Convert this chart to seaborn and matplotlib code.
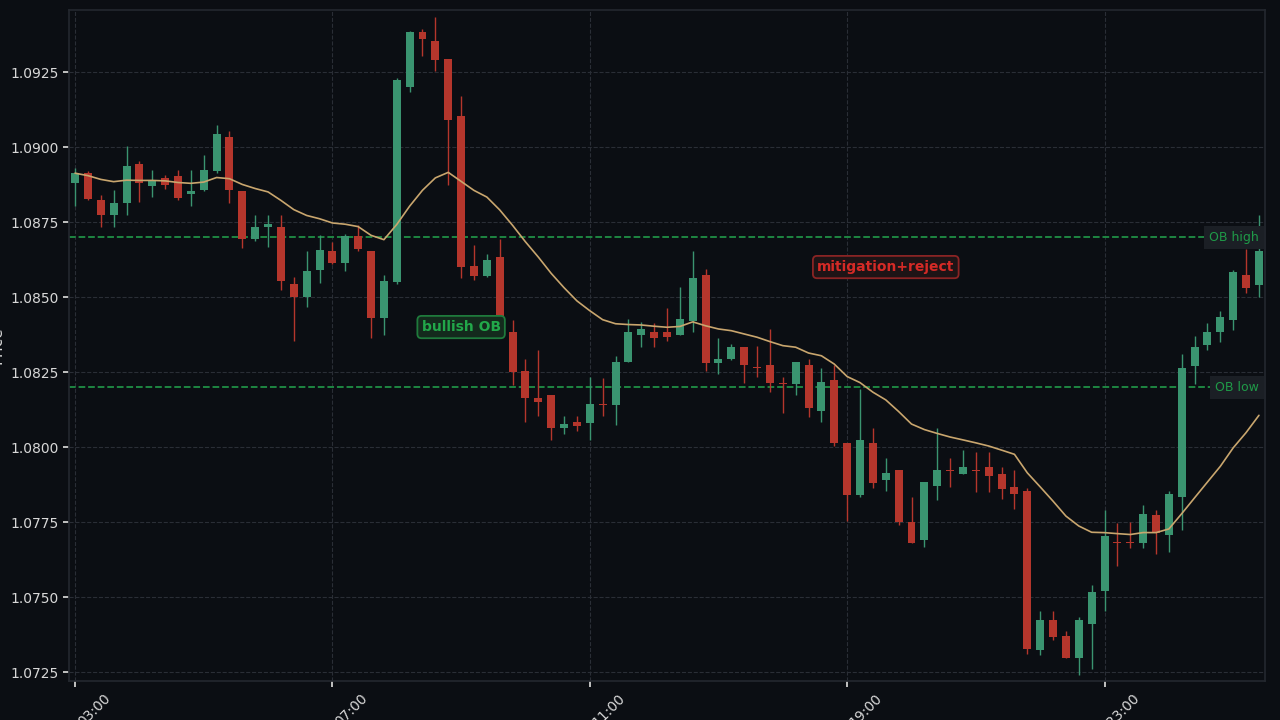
import numpy as np
import pandas as pd
import matplotlib
matplotlib.use("Agg")
import matplotlib.pyplot as plt
import seaborn as sns

opens = [1.08880,1.08913,1.08823,1.08773,1.08813,1.08943,1.08870,1.08897,1.08903,1.08843,
         1.08857,1.08920,1.09033,1.08853,1.08693,1.08733,1.08733,1.08543,1.08500,1.08590,
         1.08653,1.08613,1.08703,1.08653,1.08430,1.08550,1.09200,1.09383,1.09353,1.09293,
         1.09103,1.08603,1.08570,1.08633,1.08383,1.08253,1.08163,1.08173,1.08063,1.08083,
         1.08080,1.08143,1.08140,1.08283,1.08373,1.08383,1.08383,1.08373,1.08420,1.08573,
         1.08280,1.08293,1.08333,1.08267,1.08273,1.08213,1.08210,1.08273,1.08120,1.08223,
         1.08013,1.07840,1.08013,1.07890,1.07923,1.07750,1.07690,1.07870,1.07923,1.07910,
         1.07923,1.07933,1.07910,1.07867,1.07853,1.07323,1.07423,1.07370,1.07297,1.07410,
         1.07520,1.07683,1.07683,1.07680,1.07773,1.07707,1.07833,1.08270,1.08340,1.08383,
         1.08423,1.08573,1.08540]
closes = [1.08913,1.08827,1.08773,1.08813,1.08937,1.08880,1.08890,1.08873,1.08830,1.08853,
          1.08923,1.09043,1.08857,1.08693,1.08733,1.08743,1.08553,1.08500,1.08587,1.08657,
          1.08613,1.08703,1.08660,1.08430,1.08553,1.09223,1.09383,1.09360,1.09290,1.09090,
          1.08600,1.08570,1.08623,1.08383,1.08250,1.08163,1.08150,1.08063,1.08077,1.08070,
          1.08143,1.08140,1.08283,1.08383,1.08393,1.08363,1.08367,1.08427,1.08563,1.08280,
          1.08293,1.08333,1.08273,1.08263,1.08213,1.08210,1.08283,1.08130,1.08217,1.08013,
          1.07840,1.08023,1.07880,1.07913,1.07750,1.07680,1.07883,1.07923,1.07920,1.07933,
          1.07920,1.07903,1.07860,1.07843,1.07327,1.07423,1.07367,1.07297,1.07423,1.07517,
          1.07703,1.07680,1.07680,1.07777,1.07713,1.07843,1.08263,1.08333,1.08383,1.08433,
          1.08583,1.08530,1.08653]
highs = [1.08930,1.08920,1.08840,1.08857,1.09003,1.08953,1.08923,1.08907,1.08923,1.08923,
         1.08973,1.09073,1.09053,1.08853,1.08773,1.08773,1.08773,1.08567,1.08653,1.08707,
         1.08683,1.08710,1.08740,1.08653,1.08573,1.09230,1.09387,1.09393,1.09433,1.09293,
         1.09170,1.08673,1.08643,1.08693,1.08423,1.08293,1.08323,1.08173,1.08103,1.08103,
         1.08233,1.08230,1.08303,1.08427,1.08417,1.08413,1.08463,1.08533,1.08653,1.08593,
         1.08363,1.08343,1.08333,1.08337,1.08393,1.08233,1.08283,1.08293,1.08263,1.08273,
         1.08013,1.08193,1.08063,1.07963,1.07923,1.07833,1.07883,1.08063,1.07963,1.07990,
         1.07983,1.07983,1.07933,1.07923,1.07863,1.07453,1.07453,1.07387,1.07433,1.07540,
         1.07790,1.07747,1.07750,1.07807,1.07790,1.07853,1.08310,1.08370,1.08413,1.08453,
         1.08590,1.08660,1.08773]
lows = [1.08803,1.08823,1.08733,1.08733,1.08773,1.08817,1.08833,1.08860,1.08823,1.08803,
        1.08853,1.08913,1.08813,1.08663,1.08687,1.08667,1.08523,1.08353,1.08467,1.08547,
        1.08610,1.08587,1.08653,1.08363,1.08373,1.08543,1.09183,1.09303,1.09253,1.08873,
        1.08563,1.08557,1.08567,1.08363,1.08207,1.08083,1.08103,1.08023,1.08043,1.08053,
        1.08023,1.08103,1.08073,1.08283,1.08333,1.08333,1.08353,1.08373,1.08383,1.08253,
        1.08243,1.08290,1.08213,1.08233,1.08183,1.08113,1.08173,1.08100,1.08083,1.08003,
        1.07753,1.07833,1.07863,1.07853,1.07740,1.07680,1.07667,1.07823,1.07867,1.07910,
        1.07850,1.07850,1.07827,1.07793,1.07310,1.07307,1.07357,1.07297,1.07240,1.07260,
        1.07453,1.07603,1.07663,1.07663,1.07643,1.07650,1.07723,1.08210,1.08323,1.08350,
        1.08390,1.08513,1.08500]
tick_labels = ["03:00", "07:00", "11:00", "19:00", "23:00"]
ob_high = 1.0870
ob_low = 1.0820

df = pd.DataFrame({"i": np.arange(len(opens)), "open": opens, "close": closes,
                   "high": highs, "low": lows})
df["ma"] = df["close"].ewm(span=20, adjust=False).mean()

BG = "#0b0e13"
UP = "#3a9470"
DN = "#b5362c"
sns.set_theme(style="dark", rc={"axes.facecolor": BG, "figure.facecolor": BG})
plt.rcParams["font.family"] = ["DejaVu Sans"]

fig = plt.figure(figsize=(12.8, 7.2), dpi=100)
ax = fig.add_axes([69/1280, 39/720, (1265-69)/1280, (681-10)/720])
ax.set_facecolor(BG)

up = df["close"] >= df["open"]
colors = np.where(up, UP, DN)
ax.vlines(df["i"], df["low"], df["high"], colors=colors, linewidth=1, zorder=2)
bottoms = np.minimum(df["open"], df["close"])
heights = np.maximum(np.abs(df["close"] - df["open"]), 0.000012)
ax.bar(df["i"], heights, bottom=bottoms, width=0.62, color=colors, linewidth=0, zorder=3)

sns.lineplot(data=df, x="i", y="ma", ax=ax, color="#c9a66e", linewidth=1.2, zorder=4)

ax.axhline(ob_high, color="#1f8f45", linestyle="--", linewidth=1.3, zorder=1)
ax.axhline(ob_low, color="#1f8f45", linestyle="--", linewidth=1.3, zorder=1)

ax.set_xlim(-0.47, 92.47)
ax.set_ylim(1.07220, 1.09457)
ax.set_xticks([0, 20, 40, 60, 80])
ax.set_xticklabels(tick_labels, rotation=45, ha="left", color="#d8d8d8", fontsize=10)
ax.set_yticks([1.0725, 1.0750, 1.0775, 1.0800, 1.0825, 1.0850, 1.0875, 1.0900, 1.0925])
ax.set_yticklabels([f"{v:.4f}" for v in ax.get_yticks()], color="#d8d8d8", fontsize=10)
ax.tick_params(axis="both", length=4, color="#d8d8d8", bottom=True, left=True)
ax.grid(True, color="#2a2e36", linestyle="--", linewidth=0.8)
ax.set_xlabel("")
ax.set_ylabel("Price", color="#d8d8d8", fontsize=11)
ax.yaxis.set_label_coords(-0.054, 0.5)
for s in ax.spines.values():
    s.set_color("#23272e")

ax.text(30, 1.0840, "bullish OB", color="#22a84a", fontsize=10, fontweight="bold",
        ha="center", va="center", zorder=6,
        bbox=dict(boxstyle="round,pad=0.3", fc="#142a1d", ec="#1f7a3c", lw=1.3))
ax.text(63, 1.0860, "mitigation+reject", color="#d52a26", fontsize=10, fontweight="bold",
        ha="center", va="center", zorder=6,
        bbox=dict(boxstyle="round,pad=0.3", fc="#1e1416", ec="#8a2424", lw=1.3))
ax.text(0.995, ob_high, "OB high", transform=ax.get_yaxis_transform(), color="#1f9a48",
        fontsize=9, ha="right", va="center", zorder=6,
        bbox=dict(boxstyle="square,pad=0.4", fc="#1b1f25", ec="none"))
ax.text(0.995, ob_low, "OB low", transform=ax.get_yaxis_transform(), color="#1f9a48",
        fontsize=9, ha="right", va="center", zorder=6,
        bbox=dict(boxstyle="square,pad=0.4", fc="#1b1f25", ec="none"))

fig.savefig("out.png", dpi=100, facecolor=BG)
